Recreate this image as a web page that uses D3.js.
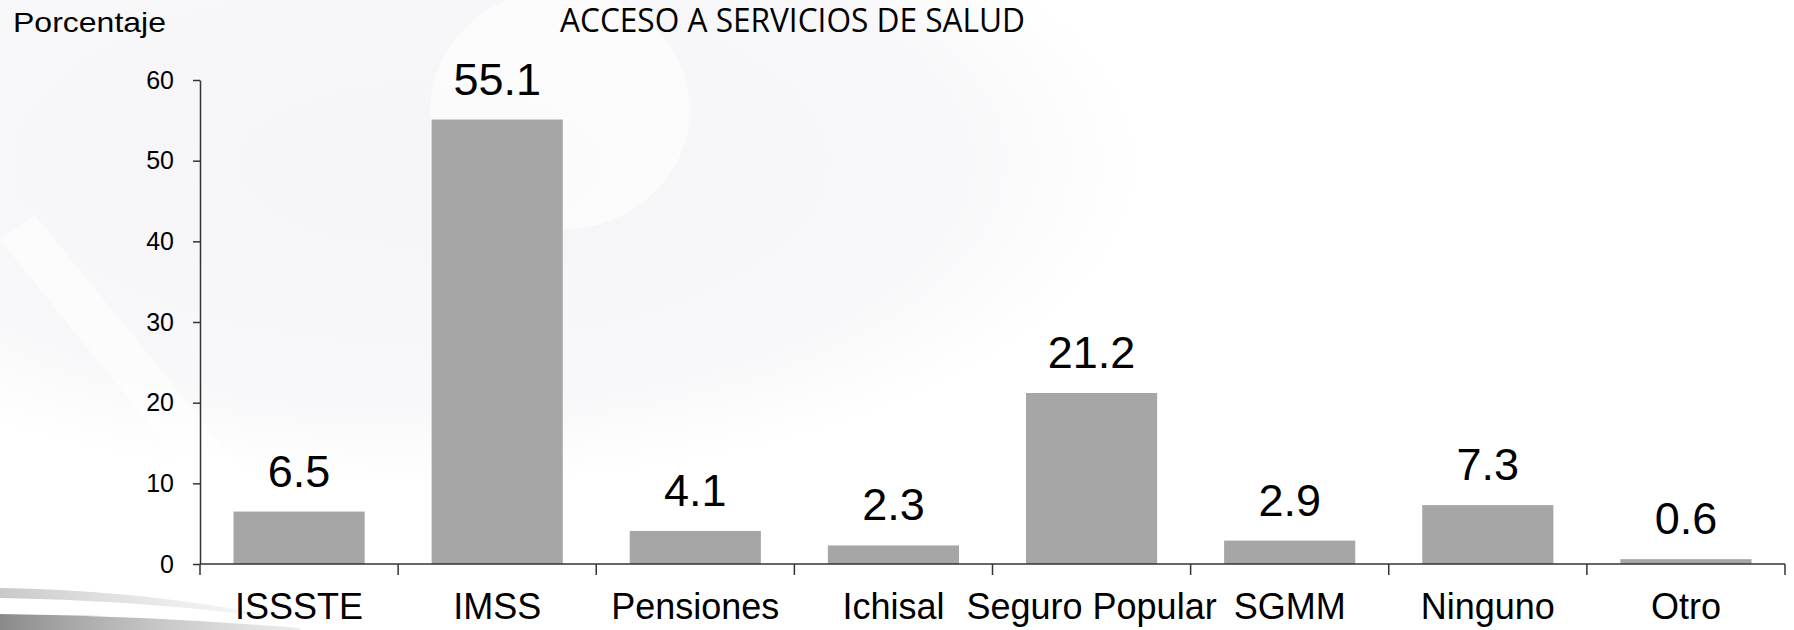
<!DOCTYPE html>
<html>
<head>
<meta charset="utf-8">
<script src="https://cdn.jsdelivr.net/npm/d3@7"></script>
<style>
  html, body { margin: 0; padding: 0; background: #fff; }
  svg { display: block; }
</style>
</head>
<body>
<div id="chart"></div>
<script>
var categories = ["ISSSTE", "IMSS", "Pensiones", "Ichisal", "Seguro Popular", "SGMM", "Ninguno", "Otro"],
    values = [6.5, 55.1, 4.1, 2.3, 21.2, 2.9, 7.3, 0.6],
    yTicks = [0, 10, 20, 30, 40, 50, 60];

var svgWidth = 1794,
    svgHeight = 630,
    plotLeft = 200,
    plotRight = 1785,
    plotTop = 80,
    plotBottom = 564;

var svg = d3.select("#chart").append("svg")
    .attr("width", svgWidth)
    .attr("height", svgHeight);

// faint background watermark
var defs = svg.append("defs");
var rg = defs.append("radialGradient").attr("id", "wm")
    .attr("cx", 0.35).attr("cy", 0.3).attr("r", 0.6);
rg.append("stop").attr("offset", "0%").attr("stop-color", "#f5f5f7");
rg.append("stop").attr("offset", "75%").attr("stop-color", "#f8f8fa");
rg.append("stop").attr("offset", "100%").attr("stop-color", "#ffffff");
svg.append("rect").attr("x", 0).attr("y", 0).attr("width", 1200).attr("height", 540)
    .attr("fill", "url(#wm)");
svg.append("ellipse").attr("cx", 560).attr("cy", 110).attr("rx", 130).attr("ry", 120)
    .attr("fill", "#ffffff").attr("opacity", 0.6);
svg.append("path").attr("d", "M0,240 L35,215 L250,480 L215,505 Z")
    .attr("fill", "#ffffff").attr("opacity", 0.5);

// swoosh bottom left
var sg1 = defs.append("linearGradient").attr("id", "sw1");
sg1.append("stop").attr("offset", "0%").attr("stop-color", "#c8c8c8");
sg1.append("stop").attr("offset", "100%").attr("stop-color", "#e8e8e8").attr("stop-opacity", 0.2);
var sg2 = defs.append("linearGradient").attr("id", "sw2");
sg2.append("stop").attr("offset", "0%").attr("stop-color", "#8a8a8a");
sg2.append("stop").attr("offset", "100%").attr("stop-color", "#bdbdbd").attr("stop-opacity", 0.3);
svg.append("path").attr("d", "M0,588 Q150,590 300,621 Q150,600 0,598 Z").attr("fill", "url(#sw1)");
svg.append("path").attr("d", "M0,614 Q150,616 300,628 L300,630 L0,630 Z").attr("fill", "url(#sw2)");

var x = d3.scaleBand()
    .domain(categories)
    .range([plotLeft, plotRight])
    .paddingInner(0.338)
    .paddingOuter(0.169);

var y = d3.scaleLinear()
    .domain([0, 60])
    .range([plotBottom, plotTop]);

// bars
svg.append("g").selectAll("rect")
    .data(values)
    .join("rect")
    .attr("x", function(d, i) { return x(categories[i]); })
    .attr("y", function(d) { return y(d); })
    .attr("width", x.bandwidth())
    .attr("height", function(d) { return y(0) - y(d); })
    .attr("fill", "#a6a6a6");

// value labels
svg.append("g").selectAll("text")
    .data(values)
    .join("text")
    .attr("x", function(d, i) { return x(categories[i]) + x.bandwidth() / 2; })
    .attr("y", function(d) { return y(d) - 25; })
    .attr("text-anchor", "middle")
    .attr("font-family", "Liberation Sans, Arial, sans-serif")
    .attr("font-size", 45)
    .attr("fill", "#000")
    .text(function(d) { return d.toFixed(1); });

// y axis
var yAxis = svg.append("g")
    .attr("transform", "translate(" + plotLeft + ",0)")
    .call(d3.axisLeft(y).tickValues(yTicks).tickSize(7).tickSizeOuter(0).tickPadding(19));
yAxis.select(".domain").attr("stroke", "#333").attr("stroke-width", 1.5);
yAxis.selectAll(".tick line").attr("stroke", "#333").attr("stroke-width", 1.5);
yAxis.selectAll(".tick text")
    .attr("font-family", "Liberation Sans, Arial, sans-serif")
    .attr("font-size", 25)
    .attr("fill", "#000");

// x axis: baseline, boundary ticks, labels
var xAxis = svg.append("g");
xAxis.append("line")
    .attr("x1", plotLeft).attr("x2", plotRight)
    .attr("y1", y(0)).attr("y2", y(0))
    .attr("stroke", "#333").attr("stroke-width", 1.5);
xAxis.selectAll(".bt")
    .data(d3.range(categories.length + 1))
    .join("line")
    .attr("class", "bt")
    .attr("x1", function(i) { return plotLeft + i * x.step(); })
    .attr("x2", function(i) { return plotLeft + i * x.step(); })
    .attr("y1", y(0)).attr("y2", y(0) + 11)
    .attr("stroke", "#333").attr("stroke-width", 1.5);
xAxis.selectAll(".cl")
    .data(categories)
    .join("text")
    .attr("class", "cl")
    .attr("x", function(d) { return x(d) + x.bandwidth() / 2; })
    .attr("y", 619)
    .attr("text-anchor", "middle")
    .attr("font-family", "Liberation Sans, Arial, sans-serif")
    .attr("font-size", 36)
    .attr("fill", "#000")
    .text(function(d) { return d; });

// titles
svg.append("text")
    .attr("x", 13).attr("y", 32)
    .attr("font-family", "Liberation Sans, Arial, sans-serif")
    .attr("font-size", 28)
    .attr("textLength", 153)
    .attr("lengthAdjust", "spacingAndGlyphs")
    .attr("fill", "#000")
    .text("Porcentaje");

svg.append("text")
    .attr("x", 560).attr("y", 32)
    .attr("font-family", "Open Sans, sans-serif")
    .attr("font-size", 33)
    .attr("textLength", 465)
    .attr("lengthAdjust", "spacingAndGlyphs")
    .attr("fill", "#000")
    .text("ACCESO A SERVICIOS DE SALUD");
</script>
</body>
</html>
